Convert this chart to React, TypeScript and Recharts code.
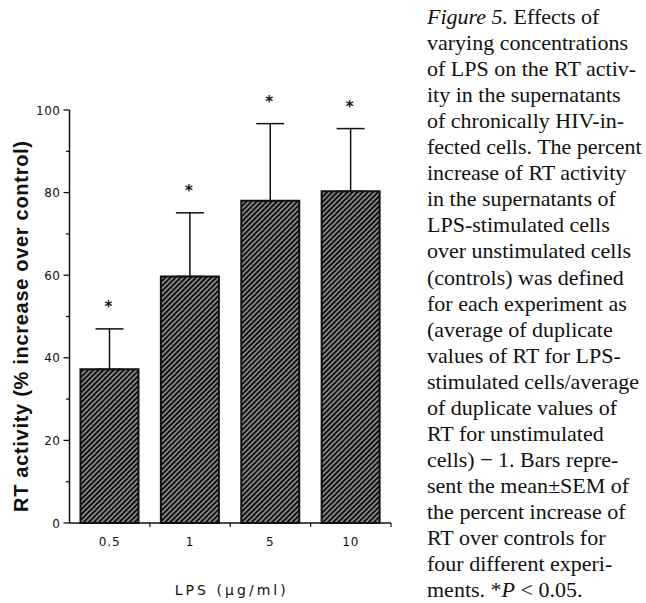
import React from "react";
import { BarChart, Bar, XAxis, YAxis, ErrorBar, LabelList } from "recharts";

const doses = ["0.5", "1", "5", "10"];
const meanIncrease = [37.2, 59.7, 78.0, 80.3];
const semIncrease = [9.8, 15.4, 18.7, 15.2];
const significant = [true, true, true, true];
const yTicks = [0, 10, 20, 30, 40, 50, 60, 70, 80, 90, 100];

// caption, _x_ marks italic
const captionLines = [
  "_Figure 5._ Effects of",
  "varying concentrations",
  "of LPS on the RT activ-",
  "ity in the supernatants",
  "of chronically HIV-in-",
  "fected cells. The percent",
  "increase of RT activity",
  "in the supernatants of",
  "LPS-stimulated cells",
  "over unstimulated cells",
  "(controls) was defined",
  "for each experiment as",
  "(average of duplicate",
  "values of RT for LPS-",
  "stimulated cells/average",
  "of duplicate values of",
  "RT for unstimulated",
  "cells) \u2212 1. Bars repre-",
  "sent the mean\u00b1SEM of",
  "the percent increase of",
  "RT over controls for",
  "four different experi-",
  "ments. *_P_ < 0.05.",
];

const data = doses.map((d, i) => ({ dose: d, mean: meanIncrease[i], err: [0, semIncrease[i]] }));

const INK = "#111";
const SANS = "'DejaVu Sans', sans-serif";

function YTick(props: any) {
  const { x, y, payload } = props;
  const v = payload.value;
  const major = v % 20 === 0;
  return (
    <g>
      <line x1={x - (major ? 6 : 3.5)} x2={x} y1={y} y2={y} stroke={INK} strokeWidth={1.3} />
      {major && (
        <text x={x - 9} y={y + 4.5} textAnchor="end" fontSize={12} fill={INK} fontFamily={SANS} letterSpacing={0.5}>
          {v}
        </text>
      )}
    </g>
  );
}

function XTick(props: any) {
  const { x, y, payload, width, visibleTicksCount } = props;
  const half = width && visibleTicksCount ? width / visibleTicksCount / 2 : 40;
  return (
    <g>
      <line x1={x + half} x2={x + half} y1={y} y2={y + 4} stroke={INK} strokeWidth={1.2} />
      <text x={x} y={y + 23} textAnchor="middle" fontSize={12} fill={INK} fontFamily={SANS} letterSpacing={1}>
        {payload.value}
      </text>
    </g>
  );
}

function Star(props: any) {
  const vb = props.viewBox || {};
  const x = vb.x ?? props.x;
  const y = vb.y ?? props.y;
  const w = vb.width ?? props.width;
  const h = vb.height ?? props.height;
  let i = props.index;
  if (i == null) i = meanIncrease.indexOf(props.value);
  if (!significant[i]) return null;
  const perUnit = h / meanIncrease[i];
  const top = y - semIncrease[i] * perUnit;
  return (
    <text x={x + w / 2 - 1} y={top - 17} textAnchor="middle" fontSize={15} fontWeight="bold" fill={INK} fontFamily={SANS}>
      *
    </text>
  );
}

function YLabel(props: any) {
  const vb = props.viewBox;
  const cx = vb.x + 18;
  const cy = vb.y + vb.height / 2 + 10;
  return (
    <text
      x={cx}
      y={cy}
      transform={`rotate(-90 ${cx} ${cy})`}
      textAnchor="middle"
      fontSize={20}
      fontWeight="bold"
      fill={INK}
      fontFamily="'Liberation Sans', Arial, sans-serif"
      textLength={371}
      lengthAdjust="spacing"
    >
      RT activity (% increase over control)
    </text>
  );
}

function XLabel(props: any) {
  const vb = props.viewBox;
  return (
    <text
      x={vb.x + vb.width / 2}
      y={vb.y + 72}
      textAnchor="middle"
      fontSize={14}
      fill={INK}
      fontFamily={SANS}
      textLength={111}
      lengthAdjust="spacing"
    >
      LPS (µg/ml)
    </text>
  );
}

function CaptionLine({ text, y }: { text: string; y: number }) {
  const parts = text.split("_");
  return (
    <text x={7} y={y} fontSize={22} fill={INK} fontFamily="'Liberation Serif', 'Times New Roman', serif">
      {parts.map((p, k) => (
        <tspan key={k} fontStyle={k % 2 === 1 ? "italic" : "normal"}>
          {p}
        </tspan>
      ))}
    </text>
  );
}

export default function App() {
  return (
    <div style={{ position: "absolute", left: 0, top: 0, width: 646, height: 603, background: "#fff", overflow: "hidden" }}>
      <div style={{ position: "absolute", left: 0, top: 0 }}>
        <BarChart width={420} height={603} data={data} margin={{ top: 110, right: 29, bottom: 50, left: 9.5 }}>
          <defs>
            <pattern id="hatch" width="3.6" height="3.6" patternUnits="userSpaceOnUse" patternTransform="rotate(45)">
              <rect width="3.6" height="3.6" fill="#0d0d0d" />
              <line x1="1.8" y1="0" x2="1.8" y2="3.6" stroke="#fff" strokeWidth="0.9" />
            </pattern>
          </defs>
          <XAxis
            dataKey="dose"
            height={30}
            tickLine={false}
            tickSize={0}
            tickMargin={0}
            interval={0}
            axisLine={{ stroke: INK, strokeWidth: 1.5 }}
            tick={<XTick />}
            label={XLabel}
          />
          <YAxis
            width={60}
            domain={[0, 100]}
            ticks={yTicks}
            interval={0}
            tickLine={false}
            tickSize={0}
            tickMargin={0}
            axisLine={{ stroke: INK, strokeWidth: 1.5 }}
            tick={<YTick />}
            label={YLabel}
          />
          <Bar dataKey="mean" fill="url(#hatch)" stroke={INK} strokeWidth={2} barSize={58} isAnimationActive={false}>
            <ErrorBar dataKey="err" width={14} stroke={INK} strokeWidth={1.5} direction="y" />
            <LabelList dataKey="mean" content={Star} />
          </Bar>
        </BarChart>
      </div>
      <svg style={{ position: "absolute", left: 420, top: 0 }} width={226} height={603}>
        {captionLines.map((t, i) => (
          <CaptionLine key={i} text={t} y={24 + i * 26.05} />
        ))}
      </svg>
    </div>
  );
}
